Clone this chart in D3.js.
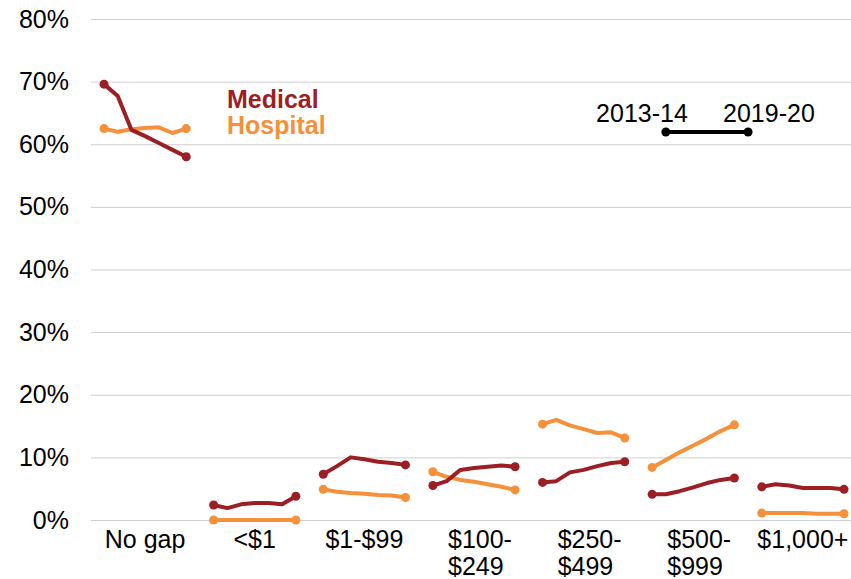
<!DOCTYPE html>
<html>
<head>
<meta charset="utf-8">
<script src="https://cdn.jsdelivr.net/npm/d3@7"></script>
<style>
  body { margin: 0; background: #fff; }
  svg { display: block; font-family: "Liberation Sans", Arial, Helvetica, sans-serif; }
</style>
</head>
<body>
<div id="container"></div>
<script>
// groups of out-of-pocket gap, each with 7 yearly points
var categories = ["No gap", "<$1", "$1-$99", "$100-\n$249", "$250-\n$499", "$500-\n$999", "$1,000+"];
var years = ["2013-14", "2014-15", "2015-16", "2016-17", "2017-18", "2018-19", "2019-20"];

var medical = [
  [69.6, 67.7, 62.3, 61.3, 60.2, 59.1, 58.0],
  [2.4, 1.9, 2.5, 2.7, 2.7, 2.5, 3.8],
  [7.3, 8.6, 10.0, 9.7, 9.3, 9.1, 8.8],
  [5.5, 6.2, 8.0, 8.3, 8.5, 8.7, 8.5],
  [6.0, 6.2, 7.6, 8.0, 8.6, 9.1, 9.3],
  [4.1, 4.1, 4.6, 5.2, 5.9, 6.4, 6.7],
  [5.3, 5.7, 5.5, 5.1, 5.1, 5.1, 4.9]
];
var hospital = [
  [62.5, 62.0, 62.4, 62.6, 62.7, 61.8, 62.5],
  [0, 0, 0, 0, 0, 0, 0],
  [4.9, 4.5, 4.3, 4.2, 4.0, 3.9, 3.6],
  [7.7, 6.9, 6.4, 6.1, 5.7, 5.3, 4.8],
  [15.3, 16.0, 15.1, 14.5, 13.9, 14.0, 13.1],
  [8.4, 9.6, 10.8, 11.9, 13.0, 14.2, 15.2],
  [1.1, 1.1, 1.1, 1.1, 1.0, 1.0, 1.0]
];
var yTicks = [0, 10, 20, 30, 40, 50, 60, 70, 80];

var W = 851, H = 579;
var colMed = "#9c1f25", colHosp = "#f5913a";
var fs = "25px";

var svg = d3.select("#container").append("svg")
    .attr("width", W)
    .attr("height", H);

// one slot per year plus one empty slot between groups
var slots = years.length + 1;
var x = d3.scaleLinear().domain([0, slots * (categories.length - 1) + years.length - 1]).range([104, 844]);
var y = d3.scaleLinear().domain([0, 80]).range([520, 19]);

var yAxis = d3.axisLeft(y)
    .tickValues(yTicks)
    .tickFormat(function(d) { return d + "%"; })
    .tickSize(-(W - 91))
    .tickPadding(22);

var gy = svg.append("g")
    .attr("transform", "translate(91,0)")
    .call(yAxis);
gy.select(".domain").remove();
gy.selectAll(".tick line").attr("stroke", "#cfcfd3").attr("stroke-width", 1);
gy.selectAll(".tick text")
    .attr("fill", "#000")
    .style("font-size", fs);

// category labels
var lab = svg.append("g").selectAll("text")
  .data(categories)
  .enter()
  .append("text")
    .style("font-size", fs)
    .attr("fill", "#000");

lab.each(function(d, i) {
  var lines = d.split("\n");
  var cx = x(i * slots + 3);
  var t = d3.select(this);
  if (lines.length == 1) {
    t.attr("text-anchor", "middle").attr("x", cx).attr("y", 548).text(d);
  } else {
    var w = 62; // approx width of first line
    lines.forEach(function(l, k) {
      t.append("tspan").attr("x", cx - w / 2 + 5).attr("y", 548 + k * 27).text(l);
    });
  }
});

var line = d3.line()
    .x(function(d) { return x(d[0]); })
    .y(function(d) { return y(d[1]); });

function drawSeries(data, color) {
  data.forEach(function(vals, g) {
    var pts = vals.map(function(v, j) { return [g * slots + j, v]; });
    svg.append("path")
      .attr("d", line(pts))
      .attr("fill", "none")
      .attr("stroke", color)
      .attr("stroke-width", 4)
      .attr("stroke-linejoin", "round")
      .attr("stroke-linecap", "round");
    svg.selectAll(null)
      .data([pts[0], pts[pts.length - 1]])
      .enter()
      .append("circle")
      .attr("cx", function(d) { return x(d[0]); })
      .attr("cy", function(d) { return y(d[1]); })
      .attr("r", 4.5)
      .attr("fill", color);
  });
}
drawSeries(hospital, colHosp);
drawSeries(medical, colMed);

// series legend
svg.append("text").attr("x", 227).attr("y", 108)
  .style("font-size", fs).style("font-weight", "bold")
  .attr("fill", colMed).text("Medical");
svg.append("text").attr("x", 227).attr("y", 134)
  .style("font-size", fs).style("font-weight", "bold")
  .attr("fill", colHosp).text("Hospital");

// year legend
var lx0 = x(41), lx1 = x(47), ly = 132;
svg.append("line")
  .attr("x1", lx0).attr("x2", lx1).attr("y1", ly).attr("y2", ly)
  .attr("stroke", "#000").attr("stroke-width", 4);
svg.selectAll(null)
  .data([lx0, lx1])
  .enter()
  .append("circle")
  .attr("cx", function(d) { return d; })
  .attr("cy", ly)
  .attr("r", 4.5)
  .attr("fill", "#000");
svg.append("text").attr("x", lx0 + 22).attr("y", 122).attr("text-anchor", "end")
  .style("font-size", fs).text(years[0]);
svg.append("text").attr("x", lx1 - 25).attr("y", 122)
  .style("font-size", fs).text(years[years.length - 1]);
</script>
</body>
</html>
